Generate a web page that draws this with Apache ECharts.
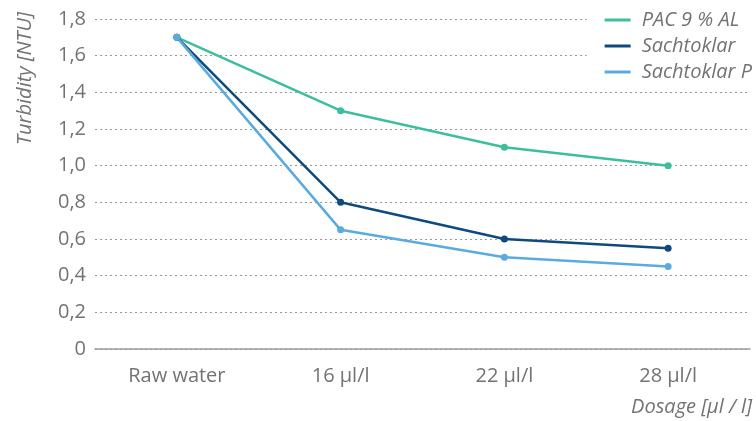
<!DOCTYPE html>
<html>
<head>
<meta charset="utf-8">
<script src="https://cdn.jsdelivr.net/npm/echarts@6/dist/echarts.min.js"></script>
<style>
  html, body { margin: 0; padding: 0; background: #fff; }
  #chart { width: 756px; height: 421px; }
</style>
</head>
<body>
<div id="chart"></div>
<script>
const categories = ["Raw water", "16 µl/l", "22 µl/l", "28 µl/l"];
const pac = [1.7, 1.3, 1.1, 1.0];
const sachtoklar = [1.7, 0.8, 0.6, 0.55];
const sachtoklarP = [1.7, 0.65, 0.5, 0.45];
const seriesNames = ["PAC 9 % AL", "Sachtoklar", "Sachtoklar P"];
const colors = ["#3dbe9e", "#0f4a7e", "#5aabdf"];

const font = "'Open Sans', sans-serif";
const textColor = "#737373";
const fs = 20;
const fw = 400;

const chart = echarts.init(document.getElementById("chart"));

function makeSeries(name, data, color) {
  return {
    name: name,
    type: "line",
    data: data,
    symbol: "circle",
    symbolSize: 7,
    lineStyle: { width: 2.5, color: color },
    itemStyle: { color: color },
  };
}

chart.setOption({
  animation: false,
  color: colors,
  grid: { left: 95, right: 6, top: 19, bottom: 72 },
  legend: {
    orient: "vertical",
    right: 0,
    top: 6,
    padding: [4, 4, 4, 18],
    backgroundColor: "#fff",
    itemGap: 6,
    itemWidth: 26,
    itemHeight: 3,
    icon: "rect",
    textStyle: { fontFamily: font, fontSize: fs, fontStyle: "italic", color: textColor, fontWeight: fw, padding: [0, 0, 0, 6] },
    data: seriesNames,
  },
  xAxis: {
    type: "category",
    data: categories,
    axisLine: { lineStyle: { color: "#9a9a9a", width: 1.5 } },
    axisTick: { alignWithLabel: true, length: 7, lineStyle: { color: "#9a9a9a" } },
    axisLabel: { margin: 17, fontFamily: font, fontSize: fs, color: textColor, fontWeight: fw },
  },
  yAxis: {
    type: "value",
    min: 0,
    max: 1.8,
    interval: 0.2,
    axisLine: { show: false },
    axisTick: { show: false },
    splitLine: { lineStyle: { type: [2, 3], color: "#9a9a9a", width: 1 } },
    axisLabel: {
      margin: 9,
      fontFamily: font,
      fontSize: fs,
      color: textColor,
      fontWeight: fw,
      formatter: (v) => (v === 0 ? "0" : v.toFixed(1).replace(".", ",")),
    },
  },
  graphic: [
    {
      type: "text",
      left: 15,
      top: 12,
      rotation: Math.PI / 2,
      style: {
        text: "Turbidity [NTU]",
        fontFamily: font,
        fontSize: fs,
        fontStyle: "italic",
        fontWeight: fw,
        fill: textColor,
      },
    },
    {
      type: "text",
      right: 4,
      top: 397,
      style: {
        text: "Dosage [µl / l]",
        fontFamily: font,
        fontSize: fs,
        fontStyle: "italic",
        fontWeight: fw,
        fill: textColor,
      },
    },
  ],
  series: [
    makeSeries(seriesNames[0], pac, colors[0]),
    makeSeries(seriesNames[1], sachtoklar, colors[1]),
    makeSeries(seriesNames[2], sachtoklarP, colors[2]),
  ],
});
</script>
</body>
</html>
